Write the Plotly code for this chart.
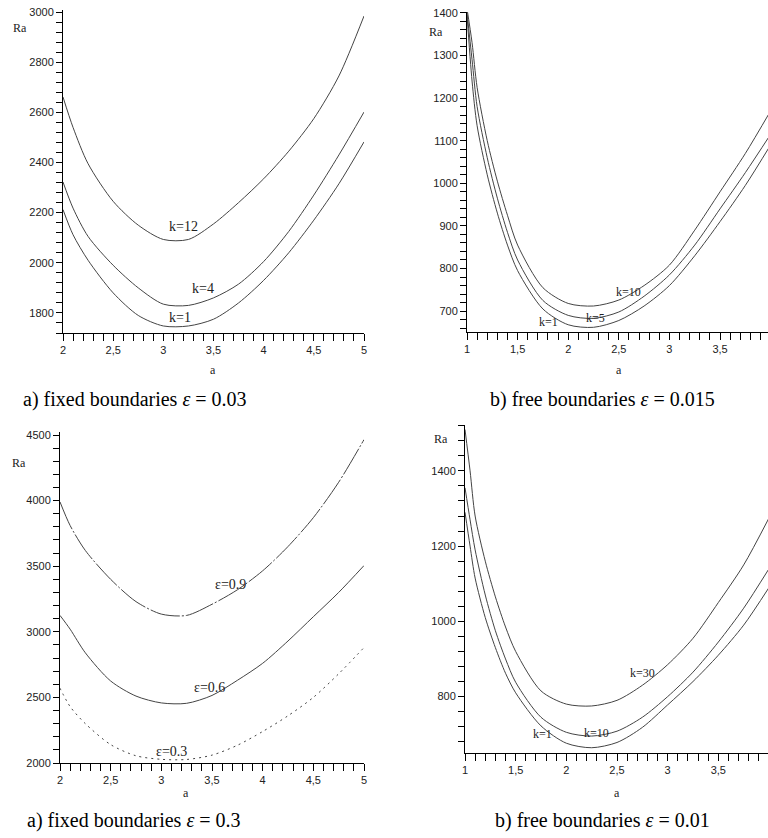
import plotly.graph_objects as go

# ---- data ----
# a) fixed boundaries, eps = 0.03
a_fixed = [2.0, 2.1, 2.25, 2.5, 2.75, 3.0, 3.25, 3.5, 3.75, 4.0, 4.25, 4.5, 4.75, 5.0]
ra_fixed_k1 = [2212, 2112, 2010, 1880, 1790, 1748, 1748, 1775, 1840, 1930, 2040, 2170, 2315, 2482]
ra_fixed_k4 = [2322, 2218, 2105, 1990, 1900, 1835, 1830, 1860, 1915, 2005, 2125, 2270, 2430, 2601]
ra_fixed_k12 = [2661, 2540, 2395, 2245, 2150, 2093, 2093, 2155, 2240, 2335, 2445, 2575, 2745, 2984]

# b) free boundaries, eps = 0.015
a_free = [1.0, 1.05, 1.1, 1.2, 1.3, 1.4, 1.5, 1.75, 2.0, 2.25, 2.5, 2.75, 3.0, 3.25, 3.5, 3.75, 4.0]
ra_free_k1 = [1395, 1240, 1135, 1020, 930, 855, 795, 705, 668, 662, 678, 712, 760, 830, 910, 995, 1090]
ra_free_k5 = [1400, 1290, 1180, 1060, 965, 885, 820, 725, 690, 683, 698, 735, 785, 855, 940, 1025, 1115]
ra_free_k10 = [1410, 1330, 1225, 1100, 1005, 925, 855, 755, 718, 712, 726, 760, 808, 890, 980, 1070, 1170]

# a) fixed boundaries, eps = 0.3 / 0.6 / 0.9
ra_eps03 = [2570, 2430, 2300, 2140, 2055, 2028, 2027, 2060, 2135, 2240, 2360, 2500, 2680, 2880]
ra_eps06 = [3125, 3020, 2840, 2625, 2510, 2458, 2455, 2515, 2630, 2760, 2930, 3115, 3300, 3505]
ra_eps09 = [3990, 3810, 3620, 3400, 3230, 3135, 3125, 3210, 3320, 3465, 3650, 3870, 4140, 4465]

# b) free boundaries, eps = 0.01
ra_free2_k1 = [1290, 1200, 1115, 1010, 930, 862, 810, 722, 676, 664, 678, 718, 778, 840, 910, 990, 1090]
ra_free2_k10 = [1355, 1270, 1190, 1070, 975, 900, 838, 745, 705, 695, 708, 745, 800, 865, 945, 1035, 1140]
ra_free2_k30 = [1510, 1400, 1280, 1160, 1065, 985, 920, 815, 780, 775, 790, 830, 885, 955, 1050, 1150, 1275]

# tick labels
xt_fixed = [2, 2.5, 3, 3.5, 4, 4.5, 5]
xt_fixed_txt = ["2", "2,5", "3", "3,5", "4", "4,5", "5"]
xt_free = [1, 1.5, 2, 2.5, 3, 3.5, 4]
xt_free_txt = ["1", "1,5", "2", "2,5", "3", "3,5", "4"]
yt_1 = [1800, 2000, 2200, 2400, 2600, 2800, 3000]
yt_2 = [700, 800, 900, 1000, 1100, 1200, 1300, 1400]
yt_3 = [2000, 2500, 3000, 3500, 4000, 4500]
yt_4 = [800, 1000, 1200, 1400]

W, H = 768, 838
LINE = "#444"
SANS = "Liberation Sans, Arial, sans-serif"
SERIF = "Liberation Serif, Times New Roman, serif"


def px_x(p):
    return p / W


def px_y(p):
    return 1 - p / H


fig = go.Figure()


def add_curve(x, y, n, dash="solid"):
    fig.add_trace(go.Scatter(
        x=x, y=y, mode="lines", xaxis="x" + n, yaxis="y" + n,
        line=dict(color=LINE, width=1, dash=dash, shape="spline", smoothing=0.8),
        showlegend=False, hoverinfo="skip"
    ))


add_curve(a_fixed, ra_fixed_k1, "")
add_curve(a_fixed, ra_fixed_k4, "")
add_curve(a_fixed, ra_fixed_k12, "")

add_curve(a_free, ra_free_k1, "2")
add_curve(a_free, ra_free_k5, "2")
add_curve(a_free, ra_free_k10, "2")

add_curve(a_fixed, ra_eps03, "3", dash="2px,4px")
add_curve(a_fixed, ra_eps06, "3")
add_curve(a_fixed, ra_eps09, "3", dash="30px,2px,2px,2px")

add_curve(a_free, ra_free2_k1, "4")
add_curve(a_free, ra_free2_k10, "4")
add_curve(a_free, ra_free2_k30, "4")


def xax(dom, rng, tv, tt, anchor):
    return dict(
        domain=dom, range=rng, anchor=anchor, showgrid=False, zeroline=False,
        showline=True, linecolor="black", linewidth=1,
        ticks="outside", ticklen=7, tickcolor="black", tickwidth=1,
        tickvals=tv, ticktext=tt, automargin=False, ticklabeloverflow="allow",
        tickfont=dict(family=SANS, size=11, color="#222"),
        minor=dict(dtick=0.1, tick0=0, ticks="outside", ticklen=7,
                   tickcolor="black", tickwidth=1, showgrid=False),
    )


def yax(dom, rng, tv, minor_step, anchor):
    return dict(
        domain=dom, range=rng, anchor=anchor, showgrid=False, zeroline=False,
        showline=True, linecolor="black", linewidth=1,
        ticks="outside", ticklen=6, tickcolor="black", tickwidth=1,
        tickvals=tv, ticktext=[str(v) for v in tv], automargin=False,
        ticklabeloverflow="allow",
        tickfont=dict(family=SANS, size=11, color="#222"),
        minor=dict(dtick=minor_step, tick0=0, ticks="outside", ticklen=6,
                   tickcolor="black", tickwidth=1, showgrid=False),
    )


fig.update_layout(
    width=W, height=H,
    margin=dict(l=0, r=0, t=0, b=0),
    paper_bgcolor="white", plot_bgcolor="white",
    showlegend=False,
    xaxis=xax([px_x(63), px_x(364)], [2, 5], xt_fixed, xt_fixed_txt, "y"),
    yaxis=yax([px_y(333), px_y(10)], [1720, 3008], yt_1, 40, "x"),
    xaxis2=xax([px_x(467), 1.0], [1, 3.974], xt_free, xt_free_txt, "y2"),
    yaxis2=yax([px_y(332), px_y(12)], [651, 1402], yt_2, 20, "x2"),
    xaxis3=xax([px_x(60), px_x(364)], [2, 5], xt_fixed, xt_fixed_txt, "y3"),
    yaxis3=yax([px_y(763), px_y(432)], [2000, 4523], yt_3, 100, "x3"),
    xaxis4=xax([px_x(465), 1.0], [1, 3.99], xt_free, xt_free_txt, "y4"),
    yaxis4=yax([px_y(753), px_y(425)], [650, 1522], yt_4, 40, "x4"),
)

# axis names "Ra" and "a", placed like the original
for xp, yp in [(20, 28), (436, 32), (19, 463), (441, 439)]:
    fig.add_annotation(x=px_x(xp), y=px_y(yp), xref="paper", yref="paper",
                       xanchor="center", yanchor="middle",
                       text="Ra", showarrow=False,
                       font=dict(family=SERIF, size=12, color="#222"))
for xp, yp in [(213, 370), (619, 370), (186, 793), (617, 793)]:
    fig.add_annotation(x=px_x(xp), y=px_y(yp), xref="paper", yref="paper",
                       xanchor="center", yanchor="middle",
                       text="a", showarrow=False,
                       font=dict(family=SERIF, size=12, color="#222"))

# curve labels
curve_labels = [
    ("", 3.2, 2143, "k=12", 14), ("", 3.4, 1899, "k=4", 14), ("", 3.17, 1780, "k=1", 14),
    ("2", 2.6, 745, "k=10", 12), ("2", 2.27, 684, "k=5", 12), ("2", 1.81, 674, "k=1", 12),
    ("3", 3.68, 3364, "ε=0.9", 14), ("3", 3.48, 2572, "ε=0.6", 14), ("3", 3.1, 2084, "ε=0.3", 14),
    ("4", 2.75, 863, "k=30", 12), ("4", 2.3, 703, "k=10", 12), ("4", 1.76, 700, "k=1", 12),
]
for n, xv, yv, txt, fs in curve_labels:
    fig.add_annotation(x=xv, y=yv, xref="x" + n, yref="y" + n, text=txt,
                       xanchor="center", yanchor="middle",
                       showarrow=False, font=dict(family=SERIF, size=fs, color="#222"))

# captions
captions = [
    (135, 400, "a) fixed boundaries <i>ε</i> = 0.03"),
    (602, 400, "b) free boundaries <i>ε</i> = 0.015"),
    (134, 820, "a) fixed boundaries <i>ε</i> = 0.3"),
    (602, 820, "b) free boundaries <i>ε</i> = 0.01"),
]
for xp, yp, txt in captions:
    fig.add_annotation(x=px_x(xp), y=px_y(yp), xref="paper", yref="paper",
                       xanchor="center", yanchor="middle",
                       text=txt, showarrow=False,
                       font=dict(family=SERIF, size=20, color="black"))

# drop the default 8px body margin so the figure sits in the page corner
fig.write_html("out.html", config={"displayModeBar": False},
               post_script="document.body.style.margin = '0';")
